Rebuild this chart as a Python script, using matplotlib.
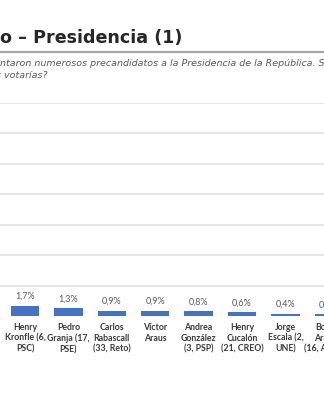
import matplotlib
matplotlib.use("Agg")
from matplotlib import pyplot as plt

# datos de la lámina (recorte)
candidatos = ["Henry\nKronfle (6,\nPSC)", "Pedro\nGranja (17,\nPSE)", "Carlos\nRabascall\n(33, Reto)",
              "Víctor\nAraus", "Andrea\nGonzález\n(3, PSP)", "Henry\nCucalón\n(21, CREO)",
              "Jorge\nEscala (2,\nUNE)", "Bolívar\nArmijos\n(16, AMIGO)"]
porcentajes = [1.7, 1.3, 0.9, 0.9, 0.8, 0.6, 0.4, 0.3]
etiquetas = ["1,7%", "1,3%", "0,9%", "0,9%", "0,8%", "0,6%", "0,4%", "0,3%"]
titulo = "o – Presidencia (1)"
subtitulo1 = "ntaron numerosos precandidatos a la Presidencia de la República. S"
subtitulo2 = "s votarías?"

W, H = 324, 400
fig = plt.figure(figsize=(W / 100, H / 100), dpi=100)
fig.patch.set_facecolor("white")

# ejes: 0% en y=316 px, 35% en y=103 px
ax = fig.add_axes([0, (H - 316) / H, 1, (316 - 103) / H])
paso = 43.4
x0 = 25
ax.set_xlim(-x0 / paso, (W - x0) / paso)
ax.set_ylim(0, 35)
ax.set_yticks([5, 10, 15, 20, 25, 30, 35])
ax.yaxis.grid(True, color="#e6e6e6", linewidth=1.4)
ax.set_axisbelow(True)
ax.tick_params(left=False, bottom=False, labelleft=False, labelbottom=False)
for s in ax.spines.values():
    s.set_visible(False)

pos = list(range(len(porcentajes)))
ax.bar(pos, porcentajes, width=0.65, color="#4472C4", zorder=2, clip_on=False)

for i, (p, e, c) in enumerate(zip(pos, etiquetas, candidatos)):
    ax.annotate(e, (p, porcentajes[i]), xytext=(0, 3.5), textcoords="offset points",
                ha="center", va="bottom", fontsize=6.5, color="#595959", family="Lato",
                annotation_clip=False)
    ax.annotate(c, (p, 0), xytext=(0, -5), textcoords="offset points",
                ha="center", va="top", fontsize=6.3, color="#3a3a3a", family="Lato",
                fontweight="bold", linespacing=1.25, annotation_clip=False)

# título y subtítulo
fig.text(0.0, 1 - 38 / H, titulo, ha="left", va="center", fontsize=12.6,
         fontweight="bold", color="#262626", family="DejaVu Sans")
fig.add_artist(plt.Line2D([0, 1], [1 - 52 / H, 1 - 52 / H], color="#a6a6a6", linewidth=1.6))
fig.text(0.0, 1 - 64 / H, subtitulo1, ha="left", va="center", fontsize=6.8,
         style="italic", color="#595959", family="DejaVu Sans")
fig.text(-0.012, 1 - 76 / H, subtitulo2, ha="left", va="center", fontsize=6.8,
         style="italic", color="#595959", family="DejaVu Sans")

fig.savefig("out.png", dpi=100)
